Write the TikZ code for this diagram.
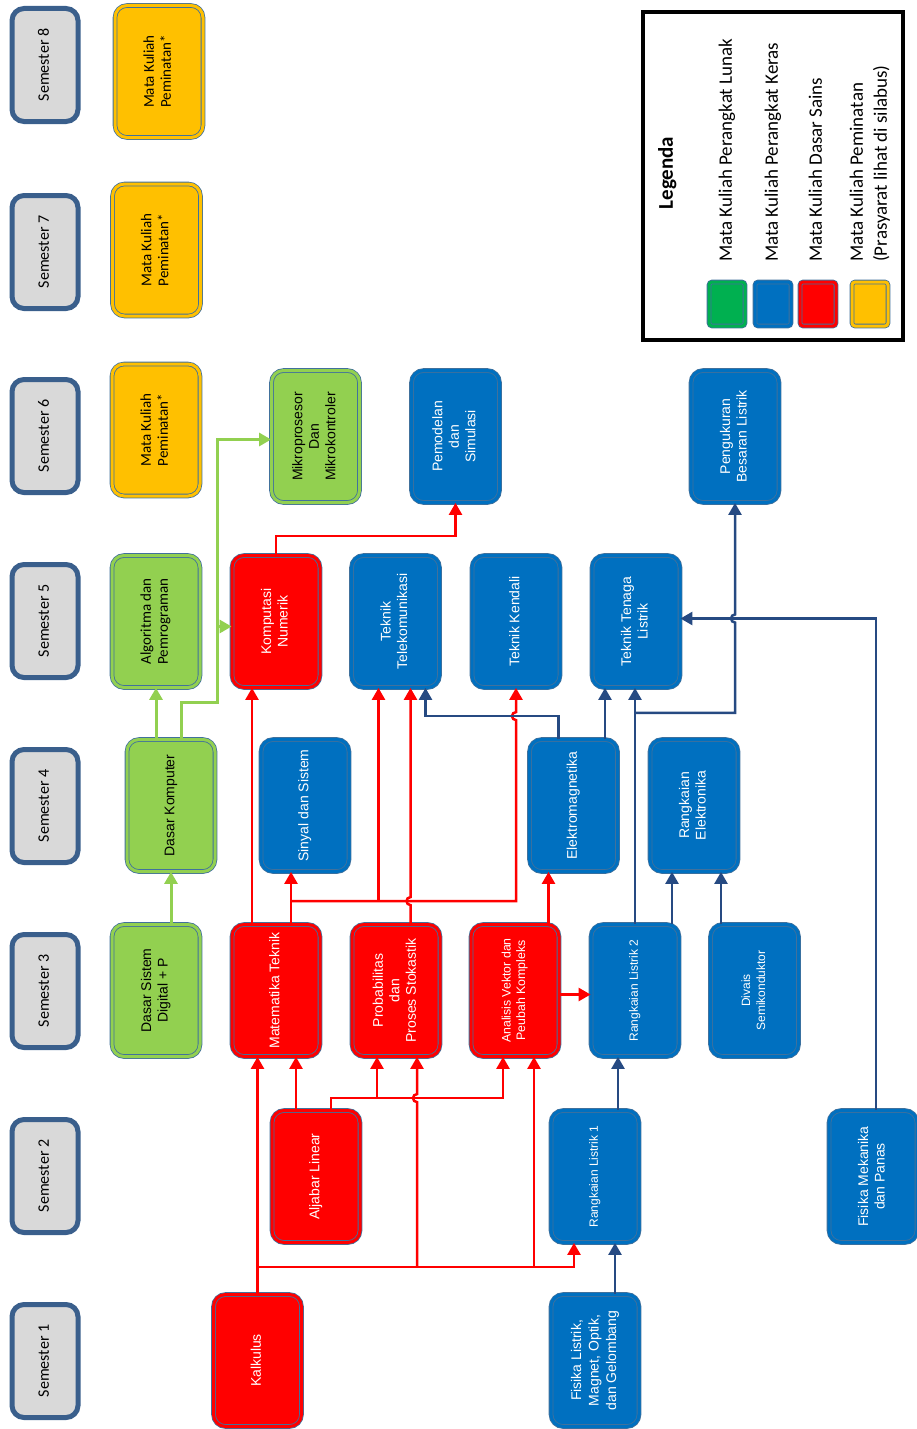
\documentclass[tikz,border=0pt]{standalone}
\usepackage{fontspec}
\setmainfont{Liberation Sans}
\newfontfamily\carlito{Carlito}
\usetikzlibrary{arrows.meta,calc}
\def\vtext#1{\rotatebox{90}{\begin{tabular}{@{}c@{}}#1\end{tabular}}}
\def\vleft#1{\rotatebox{90}{\begin{tabular}{@{}l@{}}#1\end{tabular}}}

\definecolor{mkred}{HTML}{FF0000}
\definecolor{mkblue}{HTML}{0070C0}
\definecolor{mkgreen}{HTML}{92D050}
\definecolor{mkyellow}{HTML}{FFC000}
\definecolor{mklegreen}{HTML}{00B050}
\definecolor{mkedge}{HTML}{41719C}
\definecolor{semedge}{HTML}{3A5F8C}
\definecolor{semgray}{HTML}{D9D9D9}
\definecolor{lnblue}{HTML}{264A82}

\tikzset{
  mkbox/.style={draw=mkedge, line width=0.8pt, double=#1, double distance=3pt,
    fill=#1, rounded corners=12pt, minimum width=88pt, minimum height=132pt,
    inner sep=0pt, text=white, font=\fontsize{14}{16.5}\selectfont},
  mkdark/.style={mkbox=#1, text=black},
  pilbox/.style={mkdark=mkyellow, font=\carlito\fontsize{15}{17}\selectfont},
  sembox/.style={draw=semedge, line width=5pt, fill=semgray, rounded corners=12pt,
    minimum width=66pt, minimum height=113pt, inner sep=0pt,
    font=\carlito\fontsize{16}{19}\selectfont},
  swatch/.style={mkbox=#1, minimum width=36pt, minimum height=44pt, rounded corners=3pt},
  legtext/.style={anchor=south, inner sep=0pt, font=\carlito\fontsize{19}{24}\selectfont},
  redarr/.style={draw=mkred, line width=2.5pt, -{Triangle[width=13pt,length=12pt]}},
  bluearr/.style={draw=lnblue, line width=2.5pt, -{Triangle[width=13pt,length=12pt]}},
  greenarr/.style={draw=mkgreen, line width=3pt, -{Triangle[width=13pt,length=12pt]}}
}

\begin{document}
\begin{tikzpicture}[x=1pt,y=-1pt]
  %%%%% START %%%%%
  \useasboundingbox (0,0) rectangle (916,1429);

  % semesters
  \foreach \s/\y in {1/1361,2/1176,3/991,4/806,5/621,6/436,7/252,8/65}
    \node[sembox] (s\s) at (45,\y) {\vtext{Semester \s}};

  % peminatan
  \node[pilbox] (pil8) at (159,71.5) {\vtext{Mata Kuliah\\Peminatan*}};
  \node[pilbox] (pil7) at (156.5,250) {\vtext{Mata Kuliah\\Peminatan*}};
  \node[pilbox] (pil6) at (156,430) {\vtext{Mata Kuliah\\Peminatan*}};

  % perangkat lunak
  \node[mkdark=mkgreen, font=\carlito\fontsize{15}{17}\selectfont] (algo) at (156,621.5) {\vtext{Algoritma dan\\Pemrograman}};
  \node[mkdark=mkgreen] (dk) at (171,805.5) {\vtext{Dasar Komputer}};
  \node[mkdark=mkgreen] (dsd) at (156,990.5) {\vtext{Dasar Sistem\\Digital + P}};
  \node[mkdark=mkgreen] (mikro) at (315.5,436.5) {\vtext{Mikroprosesor\\Dan\\Mikrokontroler}};

  % dasar sains
  \node[mkbox=mkred] (komnum) at (276,621.5) {\vtext{Komputasi\\Numerik}};
  \node[mkbox=mkred] (mattek) at (276,990.5) {\vtext{Matematika Teknik}};
  \node[mkbox=mkred] (aljabar) at (316,1176.5) {\vtext{Aljabar Linear}};
  \node[mkbox=mkred] (kalk) at (257.5,1360.5) {\vtext{Kalkulus}};
  \node[mkbox=mkred] (prob) at (396,990.5) {\vtext{Probabilitas\\dan\\Proses Stokastik}};
  \node[mkbox=mkred, font=\fontsize{12.3}{14.5}\selectfont] (vektor) at (515,990.5) {\vtext{Analisis Vektor dan\\Peubah Kompleks}};

  % perangkat keras
  \node[mkbox=mkblue] (sinyal) at (305,805.5) {\vtext{Sinyal dan Sistem}};
  \node[mkbox=mkblue] (pemodelan) at (455.5,436.5) {\vtext{Pemodelan\\dan\\Simulasi}};
  \node[mkbox=mkblue] (telekom) at (395.5,621.5) {\vtext{Teknik\\Telekomunikasi}};
  \node[mkbox=mkblue] (kendali) at (516,621.5) {\vtext{Teknik Kendali}};
  \node[mkbox=mkblue] (elmag) at (573.5,805.5) {\vtext{Elektromagnetika}};
  \node[mkbox=mkblue] (tenaga) at (636,621.5) {\vtext{Teknik Tenaga\\Listrik}};
  \node[mkbox=mkblue] (pengukuran) at (735,436.5) {\vtext{Pengukuran\\Besaran Listrik}};
  \node[mkbox=mkblue, font=\fontsize{12}{14.5}\selectfont] (rl2) at (635,990.5) {\vtext{Rangkaian Listrik 2}};
  \node[mkbox=mkblue, font=\fontsize{12}{14.5}\selectfont] (rl1) at (595,1176.5) {\vtext{Rangkaian Listrik 1}};
  \node[mkbox=mkblue, font=\fontsize{14}{17.5}\selectfont] (fislis) at (595,1360.5) {\vtext{Fisika Listrik,\\Magnet, Optik,\\dan Gelombang}};
  \node[mkbox=mkblue] (relek) at (694,805.5) {\vtext{Rangkaian\\Elektronika}};
  \node[mkbox=mkblue, font=\fontsize{12}{15}\selectfont] (divais) at (754.5,990.5) {\vtext{Divais\\Semikonduktor}};
  \node[mkbox=mkblue] (fismek) at (873,1176.5) {\vtext{Fisika Mekanika\\dan Panas}};

  % legenda
  \draw[line width=4pt] (643,12) rectangle (903,340);
  \node[font=\carlito\bfseries\fontsize{21}{24}\selectfont] (leg) at (668,173) {\vtext{Legenda}};
  \node[swatch=mklegreen] (lg1) at (727,304) {};
  \node[swatch=mkblue] (lg2) at (773,304) {};
  \node[swatch=mkred] (lg3) at (818,304) {};
  \node[swatch=mkyellow] (lg4) at (870,304) {};
  \node[legtext] (lt1) at (727,262) {\vleft{Mata Kuliah Perangkat Lunak}};
  \node[legtext] (lt2) at (773,262) {\vleft{Mata Kuliah Perangkat Keras}};
  \node[legtext] (lt3) at (817,262) {\vleft{Mata Kuliah Dasar Sains}};
  \node[legtext] (lt4) at (870,262) {\vleft{Mata Kuliah Peminatan\\(Prasyarat lihat di silabus)}};

  % hijau
  \coordinate (gk) at ($([xshift=10pt]dk.north)+(0,-37)$);
  \coordinate (gv) at ($(gk)+(36,0)$);
  \coordinate (mk) at ([yshift=-3pt]mikro.west);
  \coordinate (kn) at ([yshift=-5pt]komnum.west);
  \draw[greenarr] (dk.south |- dsd.north) -- (dk.south);
  \draw[greenarr] (algo.south |- dk.north) -- (algo.south);
  \draw[greenarr] ([xshift=10pt]dk.north) -- (gk) -- (gv) |- (mk);
  \draw[greenarr] (gv |- kn) -- (kn);

  % merah
  \coordinate (kh) at ($(kalk.north)+(0,-27)$);
  \coordinate (ah) at ($([xshift=15pt]aljabar.north)+(0,-12)$);
  \coordinate (pr) at ([xshift=21pt]prob.south);
  \coordinate (pl) at ([xshift=-19pt]prob.south);
  \coordinate (vr) at ([xshift=19pt]vektor.south);
  \coordinate (vl) at ([xshift=-12pt]vektor.south);
  \coordinate (ma) at ([xshift=20pt]mattek.south);
  \draw[redarr] (kalk.north) -- (kalk.north |- mattek.south);
  \draw[redarr] (kh) -| ([xshift=-21pt]rl1.south);
  \draw[redarr] (kh -| pr) -- ($(ah -| pr)+(0,4)$) arc[start angle=-90,end angle=-270,radius=4pt] -- (pr);
  \draw[redarr] (kh -| vr) -- (vr);
  \draw[redarr] (ma |- aljabar.north) -- (ma);
  \draw[redarr] ([xshift=15pt]aljabar.north) -- (ah) -| (vl);
  \draw[redarr] (ah -| pl) -- (pl);

  \coordinate (kn2) at ([xshift=-24pt]komnum.south);
  \coordinate (sv) at ([xshift=-14pt]sinyal.south);
  \coordinate (mh) at ($(sv |- mattek.north)+(0,-23)$);
  \coordinate (eh) at ($([xshift=-15pt]elmag.north)+(0,-23)$);
  \coordinate (tl) at ([xshift=-17pt]telekom.south);
  \coordinate (tr) at ([xshift=15pt]telekom.south);
  \coordinate (es) at ([xshift=-25pt]elmag.south);
  \draw[redarr] (kn2 |- mattek.north) -- (kn2);
  \draw[redarr] (sv |- mattek.north) -- (sv);
  \draw[redarr] (mh) -- (mh -| kendali.south) -- ($(eh -| kendali.south)+(0,4)$) arc[start angle=-90,end angle=-270,radius=4pt] -- (kendali.south);
  \draw[redarr] (mh -| tl) -- (tl);
  \draw[redarr] (tr |- prob.north) -- ($(mh -| tr)+(0,4)$) arc[start angle=-90,end angle=-270,radius=4pt] -- (tr);
  \draw[redarr] (es |- vektor.north) -- (es);
  \draw[redarr] ([yshift=-4pt]vektor.east) -- ([yshift=-4pt]rl2.west);
  \draw[redarr] (komnum.north) -- ++(0,-19) -| (pemodelan.south);

  % biru
  \coordinate (rv) at ([xshift=-17pt]rl2.south);
  \coordinate (th) at ([yshift=3pt]tenaga.east);
  \coordinate (bh) at ($(rl2.north |- tenaga.south)+(0,25)$);
  \coordinate (rk) at ([xshift=-22pt]relek.south);
  \coordinate (rd) at ([xshift=27pt]relek.south);
  \coordinate (tv) at ([xshift=-31pt]tenaga.south);
  \coordinate (ts) at ([xshift=30pt]telekom.south);
  \draw[bluearr] ([xshift=20pt]fislis.north) -- ([xshift=20pt]rl1.south);
  \draw[bluearr] (rv |- rl1.north) -- (rv);
  \draw[bluearr] (rl2.north) -- (rl2.north |- tenaga.south);
  \draw[bluearr] (bh) -- (bh -| pengukuran.south) -- ($(th -| pengukuran.south)+(0,4)$) arc[start angle=-90,end angle=-270,radius=4pt] -- (pengukuran.south);
  \draw[bluearr] (rk |- rl2.north) -- (rk);
  \draw[bluearr] (rd |- divais.north) -- (rd);
  \draw[bluearr] ([xshift=3pt]fismek.north) |- (th);
  \draw[bluearr] (tv |- elmag.north) -- (tv);
  \draw[bluearr] ([xshift=-15pt]elmag.north) -- (eh) -| (ts);
  %%%%% END %%%%%
\end{tikzpicture}
\end{document}
